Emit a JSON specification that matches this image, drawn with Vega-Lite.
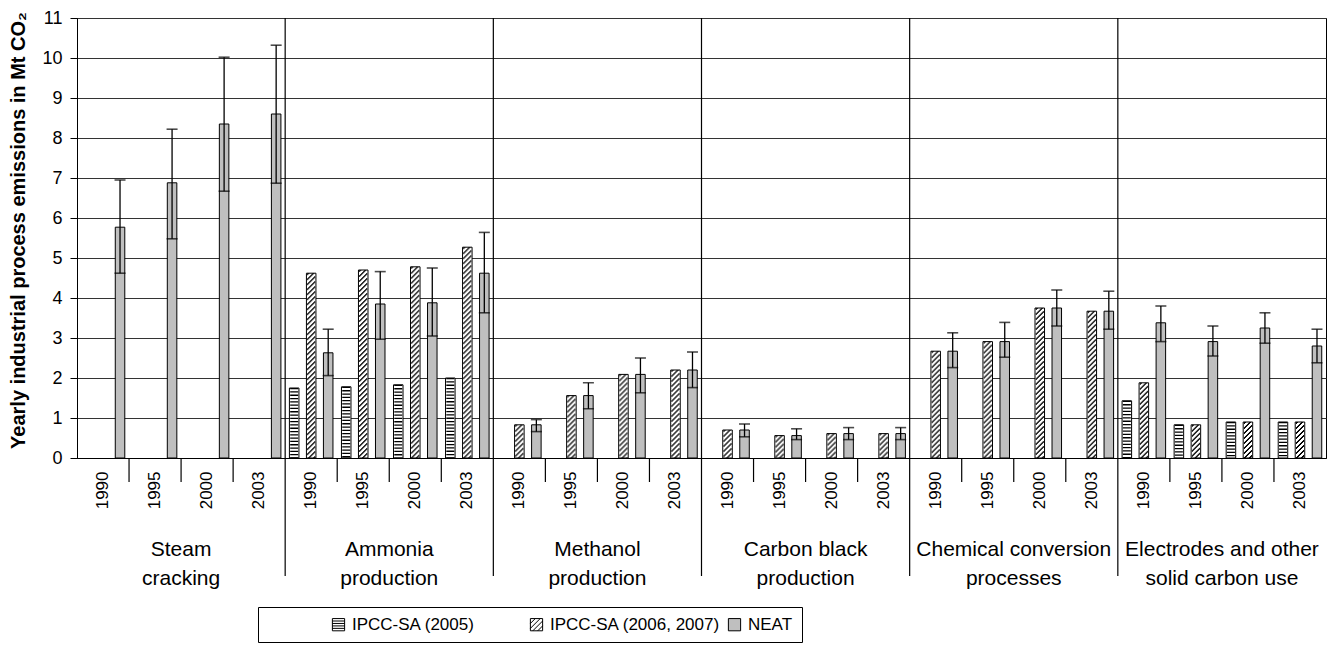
{
  "$schema": "https://vega.github.io/schema/vega-lite/v6.json",
  "width": 1249,
  "height": 440,
  "autosize": {"type": "none"},
  "padding": {"left": 77, "top": 18, "right": 10, "bottom": 188},
  "config": {
    "font": "Liberation Sans",
    "view": {"stroke": "#000", "strokeWidth": 1},
    "axisY": {
      "labelOverlap": false,
      "labelFontSize": 18, "labelColor": "#000", "labelPadding": 8,
      "tickSize": 7, "tickColor": "#000", "domainColor": "#000",
      "grid": true, "gridColor": "#333", "gridWidth": 1,
      "titleFontSize": 20, "titleFontWeight": "bold", "titleColor": "#000"
    },
    "axisX": {
      "labelFontSize": 17, "labelColor": "#000", "labelPadding": 13,
      "ticks": false, "tickSize": 0, "domainColor": "#000", "grid": false, "labelOverlap": false
    }
  },
  "data": {
    "values": [
      {"g": "Steam\ncracking", "slot": "Steam 1990", "year": "1990", "series": "NEAT", "v": 5.77, "lo": 4.62, "hi": 6.95},
      {"g": "Steam\ncracking", "slot": "Steam 1995", "year": "1995", "series": "NEAT", "v": 6.88, "lo": 5.48, "hi": 8.22},
      {"g": "Steam\ncracking", "slot": "Steam 2000", "year": "2000", "series": "NEAT", "v": 8.35, "lo": 6.67, "hi": 10.02},
      {"g": "Steam\ncracking", "slot": "Steam 2003", "year": "2003", "series": "NEAT", "v": 8.6, "lo": 6.87, "hi": 10.32},

      {"g": "Ammonia\nproduction", "slot": "Ammonia 1990", "year": "1990", "series": "IPCC-SA (2005)", "v": 1.75},
      {"g": "Ammonia\nproduction", "slot": "Ammonia 1990", "year": "1990", "series": "IPCC-SA (2006, 2007)", "v": 4.62},
      {"g": "Ammonia\nproduction", "slot": "Ammonia 1990", "year": "1990", "series": "NEAT", "v": 2.63, "lo": 2.06, "hi": 3.22},
      {"g": "Ammonia\nproduction", "slot": "Ammonia 1995", "year": "1995", "series": "IPCC-SA (2005)", "v": 1.78},
      {"g": "Ammonia\nproduction", "slot": "Ammonia 1995", "year": "1995", "series": "IPCC-SA (2006, 2007)", "v": 4.7},
      {"g": "Ammonia\nproduction", "slot": "Ammonia 1995", "year": "1995", "series": "NEAT", "v": 3.85, "lo": 2.97, "hi": 4.66},
      {"g": "Ammonia\nproduction", "slot": "Ammonia 2000", "year": "2000", "series": "IPCC-SA (2005)", "v": 1.83},
      {"g": "Ammonia\nproduction", "slot": "Ammonia 2000", "year": "2000", "series": "IPCC-SA (2006, 2007)", "v": 4.78},
      {"g": "Ammonia\nproduction", "slot": "Ammonia 2000", "year": "2000", "series": "NEAT", "v": 3.88, "lo": 3.05, "hi": 4.75},
      {"g": "Ammonia\nproduction", "slot": "Ammonia 2003", "year": "2003", "series": "IPCC-SA (2005)", "v": 2.0},
      {"g": "Ammonia\nproduction", "slot": "Ammonia 2003", "year": "2003", "series": "IPCC-SA (2006, 2007)", "v": 5.27},
      {"g": "Ammonia\nproduction", "slot": "Ammonia 2003", "year": "2003", "series": "NEAT", "v": 4.62, "lo": 3.63, "hi": 5.64},

      {"g": "Methanol\nproduction", "slot": "Methanol 1990", "year": "1990", "series": "IPCC-SA (2006, 2007)", "v": 0.83},
      {"g": "Methanol\nproduction", "slot": "Methanol 1990", "year": "1990", "series": "NEAT", "v": 0.83, "lo": 0.66, "hi": 0.96},
      {"g": "Methanol\nproduction", "slot": "Methanol 1995", "year": "1995", "series": "IPCC-SA (2006, 2007)", "v": 1.56},
      {"g": "Methanol\nproduction", "slot": "Methanol 1995", "year": "1995", "series": "NEAT", "v": 1.56, "lo": 1.23, "hi": 1.88},
      {"g": "Methanol\nproduction", "slot": "Methanol 2000", "year": "2000", "series": "IPCC-SA (2006, 2007)", "v": 2.09},
      {"g": "Methanol\nproduction", "slot": "Methanol 2000", "year": "2000", "series": "NEAT", "v": 2.09, "lo": 1.63, "hi": 2.5},
      {"g": "Methanol\nproduction", "slot": "Methanol 2003", "year": "2003", "series": "IPCC-SA (2006, 2007)", "v": 2.2},
      {"g": "Methanol\nproduction", "slot": "Methanol 2003", "year": "2003", "series": "NEAT", "v": 2.2, "lo": 1.76, "hi": 2.65},

      {"g": "Carbon black\nproduction", "slot": "Carbon 1990", "year": "1990", "series": "IPCC-SA (2006, 2007)", "v": 0.7},
      {"g": "Carbon black\nproduction", "slot": "Carbon 1990", "year": "1990", "series": "NEAT", "v": 0.7, "lo": 0.53, "hi": 0.85},
      {"g": "Carbon black\nproduction", "slot": "Carbon 1995", "year": "1995", "series": "IPCC-SA (2006, 2007)", "v": 0.56},
      {"g": "Carbon black\nproduction", "slot": "Carbon 1995", "year": "1995", "series": "NEAT", "v": 0.56, "lo": 0.46, "hi": 0.73},
      {"g": "Carbon black\nproduction", "slot": "Carbon 2000", "year": "2000", "series": "IPCC-SA (2006, 2007)", "v": 0.61},
      {"g": "Carbon black\nproduction", "slot": "Carbon 2000", "year": "2000", "series": "NEAT", "v": 0.61, "lo": 0.46, "hi": 0.76},
      {"g": "Carbon black\nproduction", "slot": "Carbon 2003", "year": "2003", "series": "IPCC-SA (2006, 2007)", "v": 0.61},
      {"g": "Carbon black\nproduction", "slot": "Carbon 2003", "year": "2003", "series": "NEAT", "v": 0.61, "lo": 0.46, "hi": 0.76},

      {"g": "Chemical conversion\nprocesses", "slot": "Chemical 1990", "year": "1990", "series": "IPCC-SA (2006, 2007)", "v": 2.67},
      {"g": "Chemical conversion\nprocesses", "slot": "Chemical 1990", "year": "1990", "series": "NEAT", "v": 2.67, "lo": 2.26, "hi": 3.13},
      {"g": "Chemical conversion\nprocesses", "slot": "Chemical 1995", "year": "1995", "series": "IPCC-SA (2006, 2007)", "v": 2.91},
      {"g": "Chemical conversion\nprocesses", "slot": "Chemical 1995", "year": "1995", "series": "NEAT", "v": 2.91, "lo": 2.52, "hi": 3.39},
      {"g": "Chemical conversion\nprocesses", "slot": "Chemical 2000", "year": "2000", "series": "IPCC-SA (2006, 2007)", "v": 3.75},
      {"g": "Chemical conversion\nprocesses", "slot": "Chemical 2000", "year": "2000", "series": "NEAT", "v": 3.75, "lo": 3.3, "hi": 4.2},
      {"g": "Chemical conversion\nprocesses", "slot": "Chemical 2003", "year": "2003", "series": "IPCC-SA (2006, 2007)", "v": 3.67},
      {"g": "Chemical conversion\nprocesses", "slot": "Chemical 2003", "year": "2003", "series": "NEAT", "v": 3.67, "lo": 3.22, "hi": 4.17},

      {"g": "Electrodes and other\nsolid carbon use", "slot": "Electrodes 1990", "year": "1990", "series": "IPCC-SA (2005)", "v": 1.43},
      {"g": "Electrodes and other\nsolid carbon use", "slot": "Electrodes 1990", "year": "1990", "series": "IPCC-SA (2006, 2007)", "v": 1.88},
      {"g": "Electrodes and other\nsolid carbon use", "slot": "Electrodes 1990", "year": "1990", "series": "NEAT", "v": 3.38, "lo": 2.91, "hi": 3.8},
      {"g": "Electrodes and other\nsolid carbon use", "slot": "Electrodes 1995", "year": "1995", "series": "IPCC-SA (2005)", "v": 0.83},
      {"g": "Electrodes and other\nsolid carbon use", "slot": "Electrodes 1995", "year": "1995", "series": "IPCC-SA (2006, 2007)", "v": 0.83},
      {"g": "Electrodes and other\nsolid carbon use", "slot": "Electrodes 1995", "year": "1995", "series": "NEAT", "v": 2.91, "lo": 2.55, "hi": 3.3},
      {"g": "Electrodes and other\nsolid carbon use", "slot": "Electrodes 2000", "year": "2000", "series": "IPCC-SA (2005)", "v": 0.9},
      {"g": "Electrodes and other\nsolid carbon use", "slot": "Electrodes 2000", "year": "2000", "series": "IPCC-SA (2006, 2007)", "v": 0.9},
      {"g": "Electrodes and other\nsolid carbon use", "slot": "Electrodes 2000", "year": "2000", "series": "NEAT", "v": 3.25, "lo": 2.87, "hi": 3.63},
      {"g": "Electrodes and other\nsolid carbon use", "slot": "Electrodes 2003", "year": "2003", "series": "IPCC-SA (2005)", "v": 0.9},
      {"g": "Electrodes and other\nsolid carbon use", "slot": "Electrodes 2003", "year": "2003", "series": "IPCC-SA (2006, 2007)", "v": 0.9},
      {"g": "Electrodes and other\nsolid carbon use", "slot": "Electrodes 2003", "year": "2003", "series": "NEAT", "v": 2.8, "lo": 2.38, "hi": 3.22}
    ]
  },
  "encoding": {
    "x": {
      "field": "slot",
      "type": "nominal",
      "scale": {
        "domain": ["Steam 1990", "Steam 1995", "Steam 2000", "Steam 2003",
                   "Ammonia 1990", "Ammonia 1995", "Ammonia 2000", "Ammonia 2003",
                   "Methanol 1990", "Methanol 1995", "Methanol 2000", "Methanol 2003",
                   "Carbon 1990", "Carbon 1995", "Carbon 2000", "Carbon 2003",
                   "Chemical 1990", "Chemical 1995", "Chemical 2000", "Chemical 2003",
                   "Electrodes 1990", "Electrodes 1995", "Electrodes 2000", "Electrodes 2003"],
        "paddingInner": 0,
        "paddingOuter": 0
      },
      "axis": {"title": null, "labelExpr": "slice(datum.label, -4)", "labelAngle": 270}
    }
  },
  "layer": [
    {
      "mark": {"type": "point", "filled": true, "opacity": 0, "stroke": "#000", "strokeWidth": 1},
      "encoding": {
        "xOffset": {
          "field": "series", "type": "nominal",
          "scale": {"domain": ["IPCC-SA (2005)", "IPCC-SA (2006, 2007)", "NEAT"], "paddingInner": 0.44, "paddingOuter": 0.25}
        },
        "y": {
          "field": "v", "type": "quantitative",
          "scale": {"domain": [0, 11], "nice": false, "zero": false},
          "axis": {"title": "Yearly industrial process emissions in Mt CO₂", "titleX": -59, "titleY": 212, "titleAngle": 270, "titleAlign": "center", "titleBaseline": "middle", "values": [0, 1, 2, 3, 4, 5, 6, 7, 8, 9, 10, 11]}
        },
        "fill": {
          "field": "series", "type": "nominal",
          "scale": {"domain": ["IPCC-SA (2005)", "IPCC-SA (2006, 2007)", "NEAT"], "range": ["#ffffff", "#ffffff", "#bfbfbf"]},
          "legend": {
            "orient": "none", "legendX": 181, "legendY": 589,
            "direction": "horizontal", "title": " ", "titleOrient": "left", "titlePadding": 63,
            "symbolSize": 150, "symbolOpacity": 1,
            "symbolStrokeColor": "#000", "symbolStrokeWidth": 1,
            "labelFontSize": 17, "labelColor": "#000", "labelOffset": 5, "labelLimit": 400,
            "columnPadding": 5, "gridAlign": "all",
            "padding": 9, "strokeColor": "#000", "fillColor": "#fff",
            "encode": {"symbols": {"update": {"stroke": {"value": "#000"}, "strokeWidth": {"value": 1}, "opacity": {"value": 1}, "fillOpacity": {"value": 1}, "strokeOpacity": {"value": 1}}}}
          }
        },
        "shape": {
          "field": "series", "type": "nominal",
          "scale": {
            "domain": ["IPCC-SA (2005)", "IPCC-SA (2006, 2007)", "NEAT"],
            "range": [
              "M-1,-1H1V1H-1Z M-1,-0.6H1 M-1,-0.2H1 M-1,0.2H1 M-1,0.6H1",
              "M-1,-1H1V1H-1Z M-1,-0.2L-0.2,-1 M-1,0.6L0.6,-1 M-0.6,1L1,-0.6 M0.2,1L1,0.2",
              "M-1,-1H1V1H-1Z"
            ]
          },
          "legend": {
            "orient": "none", "legendX": 181, "legendY": 589,
            "direction": "horizontal", "title": " ", "titleOrient": "left", "titlePadding": 63,
            "symbolSize": 150, "symbolOpacity": 1,
            "symbolStrokeColor": "#000", "symbolStrokeWidth": 1,
            "labelFontSize": 17, "labelColor": "#000", "labelOffset": 5, "labelLimit": 400,
            "columnPadding": 5, "gridAlign": "all",
            "padding": 9, "strokeColor": "#000", "fillColor": "#fff",
            "encode": {"symbols": {"update": {"stroke": {"value": "#000"}, "strokeWidth": {"value": 1}, "opacity": {"value": 1}, "fillOpacity": {"value": 1}, "strokeOpacity": {"value": 1}}}}
          }
        }
      }
    },
    {
      "mark": {"type": "bar", "stroke": "#000", "strokeWidth": 1},
      "encoding": {
        "xOffset": {"field": "series", "type": "nominal"},
        "y": {"field": "v", "type": "quantitative", "axis": {"title": "Yearly industrial process emissions in Mt CO₂", "titleX": -59, "titleY": 212, "titleAngle": 270, "titleAlign": "center", "titleBaseline": "middle", "values": [0, 1, 2, 3, 4, 5, 6, 7, 8, 9, 10, 11]}},
        "fill": {"field": "series", "type": "nominal", "legend": null}
      }
    },
    {
      "transform": [{"filter": "datum.series === 'IPCC-SA (2005)'"}],
      "mark": {"type": "rule", "color": "#000", "strokeWidth": 8, "strokeDash": [1.3, 2], "strokeCap": "butt"},
      "encoding": {
        "xOffset": {"field": "series", "type": "nominal"},
        "y": {"field": "v", "type": "quantitative", "axis": {"title": "Yearly industrial process emissions in Mt CO₂", "titleX": -59, "titleY": 212, "titleAngle": 270, "titleAlign": "center", "titleBaseline": "middle", "values": [0, 1, 2, 3, 4, 5, 6, 7, 8, 9, 10, 11]}},
        "y2": {"datum": 0}
      }
    },
    {
      "transform": [{"filter": "datum.series === 'IPCC-SA (2006, 2007)'"}],
      "mark": {"type": "rule", "color": "#000", "strokeWidth": 1, "strokeDash": [2, 3], "strokeDashOffset": 0, "xOffset": -3.5, "strokeCap": "butt"},
      "encoding": {"y": {"field": "v", "type": "quantitative", "axis": {"title": "Yearly industrial process emissions in Mt CO₂", "titleX": -59, "titleY": 212, "titleAngle": 270, "titleAlign": "center", "titleBaseline": "middle", "values": [0, 1, 2, 3, 4, 5, 6, 7, 8, 9, 10, 11]}}, "y2": {"datum": 0}}
    },
    {
      "transform": [{"filter": "datum.series === 'IPCC-SA (2006, 2007)'"}],
      "mark": {"type": "rule", "color": "#000", "strokeWidth": 1, "strokeDash": [2, 3], "strokeDashOffset": 1, "xOffset": -2.5, "strokeCap": "butt"},
      "encoding": {"y": {"field": "v", "type": "quantitative", "axis": {"title": "Yearly industrial process emissions in Mt CO₂", "titleX": -59, "titleY": 212, "titleAngle": 270, "titleAlign": "center", "titleBaseline": "middle", "values": [0, 1, 2, 3, 4, 5, 6, 7, 8, 9, 10, 11]}}, "y2": {"datum": 0}}
    },
    {
      "transform": [{"filter": "datum.series === 'IPCC-SA (2006, 2007)'"}],
      "mark": {"type": "rule", "color": "#000", "strokeWidth": 1, "strokeDash": [2, 3], "strokeDashOffset": 2, "xOffset": -1.5, "strokeCap": "butt"},
      "encoding": {"y": {"field": "v", "type": "quantitative", "axis": {"title": "Yearly industrial process emissions in Mt CO₂", "titleX": -59, "titleY": 212, "titleAngle": 270, "titleAlign": "center", "titleBaseline": "middle", "values": [0, 1, 2, 3, 4, 5, 6, 7, 8, 9, 10, 11]}}, "y2": {"datum": 0}}
    },
    {
      "transform": [{"filter": "datum.series === 'IPCC-SA (2006, 2007)'"}],
      "mark": {"type": "rule", "color": "#000", "strokeWidth": 1, "strokeDash": [2, 3], "strokeDashOffset": 3, "xOffset": -0.5, "strokeCap": "butt"},
      "encoding": {"y": {"field": "v", "type": "quantitative", "axis": {"title": "Yearly industrial process emissions in Mt CO₂", "titleX": -59, "titleY": 212, "titleAngle": 270, "titleAlign": "center", "titleBaseline": "middle", "values": [0, 1, 2, 3, 4, 5, 6, 7, 8, 9, 10, 11]}}, "y2": {"datum": 0}}
    },
    {
      "transform": [{"filter": "datum.series === 'IPCC-SA (2006, 2007)'"}],
      "mark": {"type": "rule", "color": "#000", "strokeWidth": 1, "strokeDash": [2, 3], "strokeDashOffset": 4, "xOffset": 0.5, "strokeCap": "butt"},
      "encoding": {"y": {"field": "v", "type": "quantitative", "axis": {"title": "Yearly industrial process emissions in Mt CO₂", "titleX": -59, "titleY": 212, "titleAngle": 270, "titleAlign": "center", "titleBaseline": "middle", "values": [0, 1, 2, 3, 4, 5, 6, 7, 8, 9, 10, 11]}}, "y2": {"datum": 0}}
    },
    {
      "transform": [{"filter": "datum.series === 'IPCC-SA (2006, 2007)'"}],
      "mark": {"type": "rule", "color": "#000", "strokeWidth": 1, "strokeDash": [2, 3], "strokeDashOffset": 0, "xOffset": 1.5, "strokeCap": "butt"},
      "encoding": {"y": {"field": "v", "type": "quantitative", "axis": {"title": "Yearly industrial process emissions in Mt CO₂", "titleX": -59, "titleY": 212, "titleAngle": 270, "titleAlign": "center", "titleBaseline": "middle", "values": [0, 1, 2, 3, 4, 5, 6, 7, 8, 9, 10, 11]}}, "y2": {"datum": 0}}
    },
    {
      "transform": [{"filter": "datum.series === 'IPCC-SA (2006, 2007)'"}],
      "mark": {"type": "rule", "color": "#000", "strokeWidth": 1, "strokeDash": [2, 3], "strokeDashOffset": 1, "xOffset": 2.5, "strokeCap": "butt"},
      "encoding": {"y": {"field": "v", "type": "quantitative", "axis": {"title": "Yearly industrial process emissions in Mt CO₂", "titleX": -59, "titleY": 212, "titleAngle": 270, "titleAlign": "center", "titleBaseline": "middle", "values": [0, 1, 2, 3, 4, 5, 6, 7, 8, 9, 10, 11]}}, "y2": {"datum": 0}}
    },
    {
      "transform": [{"filter": "datum.series === 'IPCC-SA (2006, 2007)'"}],
      "mark": {"type": "rule", "color": "#000", "strokeWidth": 1, "strokeDash": [2, 3], "strokeDashOffset": 2, "xOffset": 3.5, "strokeCap": "butt"},
      "encoding": {"y": {"field": "v", "type": "quantitative", "axis": {"title": "Yearly industrial process emissions in Mt CO₂", "titleX": -59, "titleY": 212, "titleAngle": 270, "titleAlign": "center", "titleBaseline": "middle", "values": [0, 1, 2, 3, 4, 5, 6, 7, 8, 9, 10, 11]}}, "y2": {"datum": 0}}
    },
    {
      "transform": [{"filter": "datum.series === 'NEAT'"}],
      "mark": {"type": "rule", "color": "#000", "strokeWidth": 1.3},
      "encoding": {
        "xOffset": {"field": "series", "type": "nominal"},
        "y": {"field": "lo", "type": "quantitative", "axis": {"title": "Yearly industrial process emissions in Mt CO₂", "titleX": -59, "titleY": 212, "titleAngle": 270, "titleAlign": "center", "titleBaseline": "middle", "values": [0, 1, 2, 3, 4, 5, 6, 7, 8, 9, 10, 11]}},
        "y2": {"field": "hi"}
      }
    },
    {
      "transform": [{"filter": "datum.series === 'NEAT'"}],
      "mark": {"type": "tick", "color": "#000", "size": 11, "thickness": 1.6},
      "encoding": {
        "xOffset": {"field": "series", "type": "nominal"},
        "y": {"field": "hi", "type": "quantitative", "axis": {"title": "Yearly industrial process emissions in Mt CO₂", "titleX": -59, "titleY": 212, "titleAngle": 270, "titleAlign": "center", "titleBaseline": "middle", "values": [0, 1, 2, 3, 4, 5, 6, 7, 8, 9, 10, 11]}}
      }
    },
    {
      "transform": [{"filter": "datum.series === 'NEAT'"}],
      "mark": {"type": "tick", "color": "#000", "size": 11, "thickness": 1.6},
      "encoding": {
        "xOffset": {"field": "series", "type": "nominal"},
        "y": {"field": "lo", "type": "quantitative", "axis": {"title": "Yearly industrial process emissions in Mt CO₂", "titleX": -59, "titleY": 212, "titleAngle": 270, "titleAlign": "center", "titleBaseline": "middle", "values": [0, 1, 2, 3, 4, 5, 6, 7, 8, 9, 10, 11]}}
      }
    },
    {
      "transform": [{"filter": "datum.series === 'NEAT' && datum.year !== '1990'"}],
      "mark": {"type": "rule", "color": "#000", "strokeWidth": 1.2},
      "encoding": {
        "x": {"field": "slot", "type": "nominal", "bandPosition": 0, "axis": {"title": null, "labelExpr": "slice(datum.label, -4)", "labelAngle": 270}},
        "y": {"datum": 0, "type": "quantitative", "axis": {"title": "Yearly industrial process emissions in Mt CO₂", "titleX": -59, "titleY": 212, "titleAngle": 270, "titleAlign": "center", "titleBaseline": "middle", "values": [0, 1, 2, 3, 4, 5, 6, 7, 8, 9, 10, 11]}},
        "y2": {"datum": -0.6}
      }
    },
    {
      "transform": [{"filter": "datum.series === 'NEAT' && datum.year === '1990' && datum.slot !== 'Steam 1990'"}],
      "mark": {"type": "rule", "color": "#000", "strokeWidth": 1.2},
      "encoding": {
        "x": {"field": "slot", "type": "nominal", "bandPosition": 0, "axis": {"title": null, "labelExpr": "slice(datum.label, -4)", "labelAngle": 270}},
        "y": {"datum": 11, "type": "quantitative", "axis": {"title": "Yearly industrial process emissions in Mt CO₂", "titleX": -59, "titleY": 212, "titleAngle": 270, "titleAlign": "center", "titleBaseline": "middle", "values": [0, 1, 2, 3, 4, 5, 6, 7, 8, 9, 10, 11]}},
        "y2": {"datum": -2.95}
      }
    },
    {
      "transform": [{"filter": "datum.series === 'NEAT' && datum.year === '1995'"}],
      "mark": {"type": "text", "color": "#000", "fontSize": 21, "lineHeight": 29, "lineBreak": "\n", "align": "center", "baseline": "middle"},
      "encoding": {
        "x": {"field": "slot", "type": "nominal", "bandPosition": 1, "axis": {"title": null, "labelExpr": "slice(datum.label, -4)", "labelAngle": 270}},
        "y": {"datum": -2.3, "type": "quantitative", "axis": {"title": "Yearly industrial process emissions in Mt CO₂", "titleX": -59, "titleY": 212, "titleAngle": 270, "titleAlign": "center", "titleBaseline": "middle", "values": [0, 1, 2, 3, 4, 5, 6, 7, 8, 9, 10, 11]}},
        "text": {"field": "g"}
      }
    }
  ]
}
